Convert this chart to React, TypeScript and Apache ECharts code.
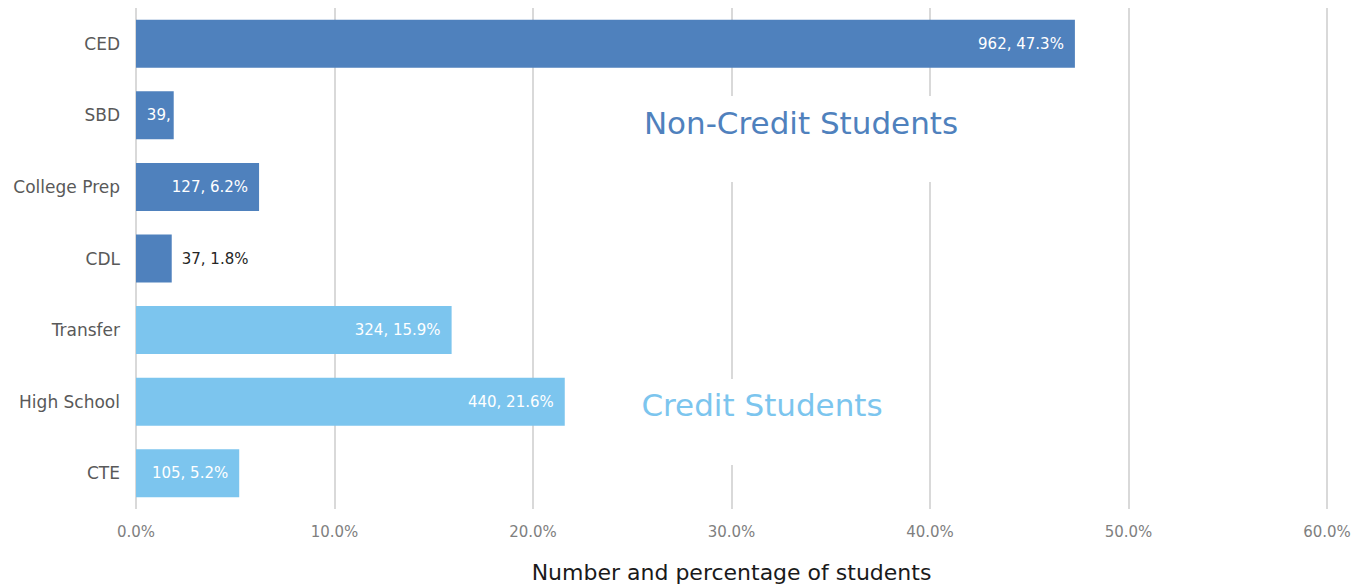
import React, { useEffect, useRef } from "react";
import * as echarts from "echarts";

const categories = ["CED", "SBD", "College Prep", "CDL", "Transfer", "High School", "CTE"];
const counts = [962, 39, 127, 37, 324, 440, 105];
const percents = [47.3, 1.9, 6.2, 1.8, 15.9, 21.6, 5.2];
const groups = ["non", "non", "non", "non", "credit", "credit", "credit"];
const xTicks = [0, 10, 20, 30, 40, 50, 60];

const FONT = "DejaVu Sans";
const DARK = "#4F81BD";
const LIGHT = "#7CC5EE";

export default function App() {
  const ref = useRef<HTMLDivElement>(null);
  useEffect(() => {
    if (!ref.current) return;
    const chart = echarts.init(ref.current, undefined, { renderer: "svg" });
    const data = categories.map((c, i) => {
      const item: any = {
        value: percents[i],
        itemStyle: { color: groups[i] === "non" ? DARK : LIGHT },
      };
      if (c === "CDL") {
        item.label = { position: "right", color: "#262626", distance: 10 };
      }
      if (c === "SBD") {
        item.label = { width: 28, overflow: "truncate", ellipsis: "", position: "insideRight", distance: 3 };
      }
      return item;
    });
    chart.setOption({
      animation: false,
      textStyle: { fontFamily: FONT },
      grid: { left: 136, right: 41, top: 8, bottom: 76, containLabel: false, outerBoundsMode: "none" },
      xAxis: {
        type: "value",
        min: xTicks[0],
        max: xTicks[xTicks.length - 1],
        interval: 10,
        axisLine: { show: false },
        axisTick: { show: false },
        axisLabel: {
          formatter: (v: number) => v.toFixed(1) + "%",
          color: "#7f7f7f",
          fontSize: 15,
          margin: 15,
          fontFamily: FONT,
        },
        splitLine: { show: true, lineStyle: { color: "#d9d9d9", width: 2 } },
        name: "Number and percentage of students",
        nameLocation: "middle",
        nameGap: 52,
        nameTextStyle: { color: "#1a1a1a", fontSize: 22, fontFamily: FONT },
      },
      yAxis: {
        type: "category",
        data: categories,
        inverse: true,
        axisLine: { show: false },
        axisTick: { show: false },
        axisLabel: { color: "#595959", fontSize: 17, margin: 16, fontFamily: FONT },
      },
      series: [
        {
          type: "bar",
          data,
          barWidth: 48,
          label: {
            show: true,
            position: "insideRight",
            distance: 11,
            color: "#ffffff",
            fontSize: 15,
            fontFamily: FONT,
            formatter: (p: any) => `${counts[p.dataIndex]}, ${percents[p.dataIndex].toFixed(1)}%`,
          },
        },
      ],
      graphic: [
        { type: "rect", z: 50, shape: { x: 620, y: 96, width: 370, height: 86 }, style: { fill: "#ffffff" } },
        {
          type: "text", z: 51, x: 801, y: 123,
          style: { text: "Non-Credit Students", fill: DARK, fontSize: 31, fontFamily: FONT, align: "center", verticalAlign: "middle" },
        },
        { type: "rect", z: 50, shape: { x: 620, y: 379, width: 290, height: 86 }, style: { fill: "#ffffff" } },
        {
          type: "text", z: 51, x: 762, y: 405,
          style: { text: "Credit Students", fill: LIGHT, fontSize: 31, fontFamily: FONT, align: "center", verticalAlign: "middle" },
        },
      ],
    });
    return () => chart.dispose();
  }, []);
  return <div ref={ref} style={{ width: 1368, height: 585, position: "absolute", left: 0, top: 0 }} />;
}
